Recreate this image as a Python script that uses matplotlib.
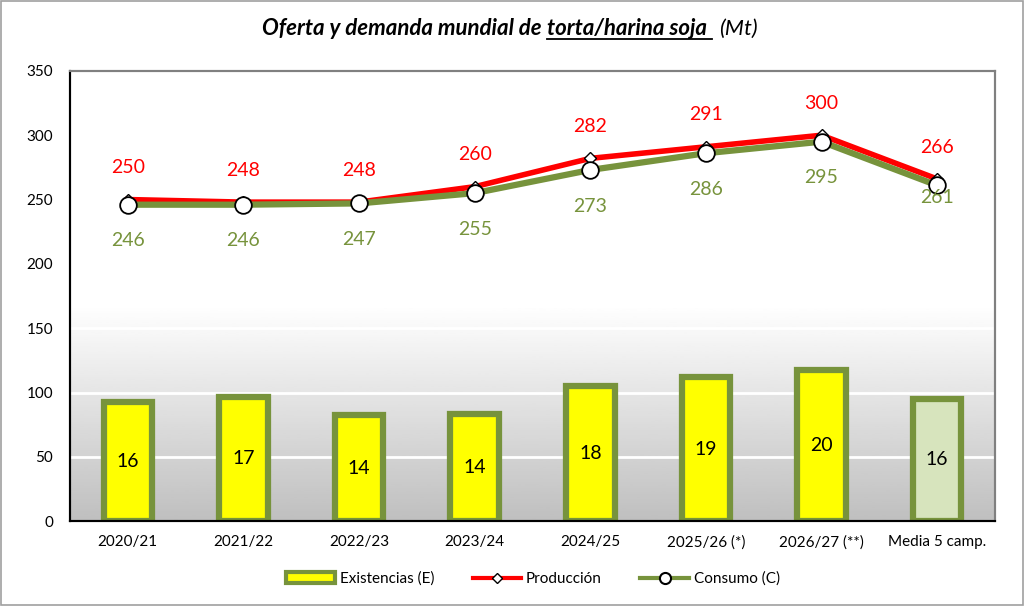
import matplotlib.pyplot as plt
import numpy as np
from matplotlib.lines import Line2D
from matplotlib.patches import Patch, Rectangle

plt.rcParams['font.family'] = ['Lato', 'DejaVu Sans']

campaigns = ['2020/21', '2021/22', '2022/23', '2023/24', '2024/25',
             '2025/26 (*)', '2026/27 (**)', 'Media 5 camp.']
produccion = [250, 248, 248, 260, 282, 291, 300, 266]
consumo = [246, 246, 247, 255, 273, 286, 295, 261]
existencias = [15.9, 16.6, 14.1, 14.3, 18.0, 19.2, 20.1, 16.3]

olive = '#77933C'
fig = plt.figure(figsize=(10.25, 6.06), dpi=100)
fig.patches.append(Rectangle((0.001, 0.002), 0.997, 0.996, transform=fig.transFigure,
                             fill=False, edgecolor='#a0a0a0', lw=1.2))

ax = fig.add_axes([0.0683, 0.140, 0.9024, 0.743])
ax2 = ax.twinx()
x = np.arange(len(campaigns))

# bars (stocks) on hidden secondary scale 0-60
ax.set_xlim(-0.5, 7.5)
ax.set_ylim(0, 60)
ax2.set_ylim(0, 350)

# gradient background + white grid, behind bars
grad = np.linspace(0.75, 0.995, 100).reshape(-1, 1)
ax.imshow(grad, cmap='gray', vmin=0, vmax=1, aspect='auto', origin='lower',
          extent=(-0.5, 7.5, 0, 165), transform=ax2.transData, zorder=0)
ax.hlines([50, 100, 150], -0.5, 7.5, colors='white', lw=2,
          transform=ax2.transData, zorder=0.5)

faces = ['#FFFF00'] * 7 + ['#D7E4BD']
bars = ax.bar(x, existencias, width=0.42, color=faces, edgecolor=olive, lw=4.5, zorder=2)
ax.bar_label(bars, labels=[f'{v:.0f}' for v in existencias], label_type='center',
             fontsize=14, color='black')

ax2.plot(x, consumo, color=olive, lw=4.5, marker='o', ms=12, mfc='white',
         mec='black', mew=1.3, zorder=3)
ax2.plot(x, produccion, color='red', lw=4, marker='D', ms=6, mfc='white',
         mec='black', mew=1.0, zorder=2)

cons_off = [-26] * 7 + [-9]
for i in range(len(x)):
    ax2.annotate(f'{produccion[i]}', (x[i], produccion[i]), xytext=(0, 23),
                 textcoords='offset points', ha='center', va='center',
                 color='red', fontsize=14)
    ax2.annotate(f'{consumo[i]}', (x[i], consumo[i]), xytext=(0, cons_off[i]),
                 textcoords='offset points', ha='center', va='center',
                 color=olive, fontsize=14)

ax.set_xticks(x)
ax.set_xticklabels(campaigns, fontsize=11)
ax.tick_params(axis='x', length=0, pad=10)
ax.tick_params(axis='y', left=False, labelleft=False, right=False, labelright=False)
ax2.yaxis.tick_left()
ax2.set_yticks(range(0, 351, 50))
ax2.tick_params(axis='y', length=0, labelsize=11, pad=12)

for a in (ax, ax2):
    a.spines['left'].set_color('black')
    a.spines['bottom'].set_color('black')
    a.spines['left'].set_linewidth(1.5)
    a.spines['bottom'].set_linewidth(1.5)
    a.spines['top'].set_color('#808080')
    a.spines['right'].set_color('#808080')
    a.spines['top'].set_linewidth(1.5)
    a.spines['right'].set_linewidth(1.5)

# title in three pieces, middle one underlined
fig.canvas.draw()
r = fig.canvas.get_renderer()
ty = 0.943
t1 = fig.text(0.256, ty, 'Oferta y demanda mundial de ', fontsize=16,
              fontweight='bold', fontstyle='italic', va='baseline')
b1 = t1.get_window_extent(r)
t2 = fig.text(b1.x1 / fig.bbox.width, ty, 'torta/harina soja', fontsize=16,
              fontweight='bold', fontstyle='italic', va='baseline')
b2 = t2.get_window_extent(r)
uy = ty - 4 / fig.bbox.height
fig.add_artist(Line2D([b2.x0 / fig.bbox.width, (b2.x1 + 5) / fig.bbox.width], [uy, uy],
                      color='black', lw=1.3))
fig.text((b2.x1 + 12) / fig.bbox.width, ty, '(Mt)', fontsize=16,
         fontstyle='italic', va='baseline')

handles = [Patch(facecolor='#FFFF00', edgecolor=olive, lw=3),
           Line2D([], [], color='red', lw=3, marker='D', ms=5, mfc='white', mec='black'),
           Line2D([], [], color=olive, lw=3, marker='o', ms=8, mfc='white', mec='black', mew=1.5)]
fig.legend(handles, ['Existencias (E)', 'Producción', 'Consumo (C)'],
           loc='center', bbox_to_anchor=(0.52, 0.045), ncol=3, frameon=False,
           fontsize=11, handlelength=3.2, columnspacing=2.5, handletextpad=0.3)

fig.savefig('out.png', dpi=100)
